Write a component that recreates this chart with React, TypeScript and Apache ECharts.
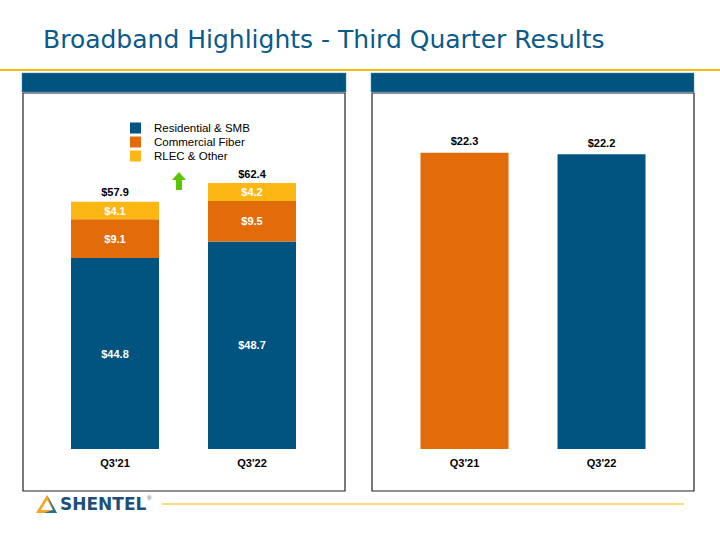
import React, { useEffect, useRef } from "react";
import * as echarts from "echarts";

const categories = ["Q3'21", "Q3'22"];
const residentialSMB = [44.8, 48.7];
const commercialFiber = [9.1, 9.5];
const rlecOther = [4.1, 4.2];
const totals = [57.9, 62.4];
const rightValues = [22.3, 22.2];
const seriesNames = ["Residential & SMB", "Commercial Fiber", "RLEC & Other"];

const BLUE = "#00547F";
const ORANGE = "#E36C0A";
const YELLOW = "#FDB714";
const FONT = "Liberation Sans, Arial, sans-serif";

const money = (v: number) => "$" + v.toFixed(1);

export default function App() {
  const ref = useRef<HTMLDivElement>(null);
  useEffect(() => {
    if (!ref.current) return;
    const chart = echarts.init(ref.current, null, { renderer: "svg" });
    const segLabel = {
      show: true,
      position: "inside",
      color: "#fff",
      fontWeight: "bold",
      fontSize: 11,
      fontFamily: FONT,
      formatter: (p: any) => money(p.value),
    };
    const axisLabel = {
      color: "#000",
      fontWeight: "bold",
      fontSize: 11,
      fontFamily: FONT,
      margin: 8,
    };
    chart.setOption({
      animation: false,
      textStyle: { fontFamily: FONT },
      grid: [
        { left: 46.5, width: 274, top: 108, bottom: 91, containLabel: false },
        { left: 396, width: 274, top: 117, bottom: 91, containLabel: false },
      ],
      legend: {
        data: seriesNames,
        orient: "vertical",
        left: 125,
        top: 117,
        itemWidth: 11,
        itemHeight: 11,
        itemGap: 2,
        icon: "rect",
        textStyle: { fontSize: 11.5, color: "#000", fontFamily: FONT, padding: [0, 0, 0, 8] },
        selectedMode: false,
      },
      xAxis: [
        {
          type: "category",
          data: categories,
          gridIndex: 0,
          axisLine: { show: false },
          axisTick: { show: false },
          axisLabel,
        },
        {
          type: "category",
          data: categories,
          gridIndex: 1,
          axisLine: { show: false },
          axisTick: { show: false },
          axisLabel,
        },
      ],
      yAxis: [
        { type: "value", gridIndex: 0, min: 0, max: 80, show: false },
        { type: "value", gridIndex: 1, min: 0, max: 25, show: false },
      ],
      series: [
        {
          name: seriesNames[0],
          type: "bar",
          stack: "a",
          xAxisIndex: 0,
          yAxisIndex: 0,
          barWidth: 88,
          data: residentialSMB,
          itemStyle: { color: BLUE },
          label: segLabel,
        },
        {
          name: seriesNames[1],
          type: "bar",
          stack: "a",
          xAxisIndex: 0,
          yAxisIndex: 0,
          barWidth: 88,
          data: commercialFiber,
          itemStyle: { color: ORANGE },
          label: segLabel,
        },
        {
          name: seriesNames[2],
          type: "bar",
          stack: "a",
          xAxisIndex: 0,
          yAxisIndex: 0,
          barWidth: 88,
          data: rlecOther,
          itemStyle: { color: YELLOW },
          label: segLabel,
        },
        {
          name: "Total",
          type: "bar",
          stack: "a",
          xAxisIndex: 0,
          yAxisIndex: 0,
          barWidth: 88,
          data: totals.map(() => 0),
          itemStyle: { color: "transparent" },
          label: {
            show: true,
            position: "top",
            distance: 4,
            color: "#000",
            fontWeight: "bold",
            fontSize: 11,
            fontFamily: FONT,
            formatter: (p: any) => money(totals[p.dataIndex]),
          },
        },
        {
          name: "Right",
          type: "bar",
          xAxisIndex: 1,
          yAxisIndex: 1,
          barWidth: 88,
          data: rightValues.map((v, i) => ({ value: v, itemStyle: { color: i === 0 ? ORANGE : BLUE } })),
          label: {
            show: true,
            position: "top",
            distance: 6,
            color: "#000",
            fontWeight: "bold",
            fontSize: 11,
            fontFamily: FONT,
            formatter: (p: any) => money(p.value),
          },
        },
      ],
      graphic: [
        {
          type: "text",
          left: 43,
          top: 27,
          style: {
            text: "Broadband Highlights - Third Quarter Results",
            fill: "#0B5A8A",
            fontSize: 25,
            fontFamily: "DejaVu Sans, Verdana, sans-serif",
          },
        },
        { type: "rect", shape: { x: 0, y: 69, width: 720, height: 2 }, style: { fill: "#FDB913" } },
        { type: "rect", shape: { x: 22, y: 73, width: 324, height: 19 }, style: { fill: BLUE, stroke: "#3A8CC0", lineWidth: 0.5 } },
        { type: "rect", shape: { x: 371, y: 73, width: 323, height: 19 }, style: { fill: BLUE, stroke: "#3A8CC0", lineWidth: 0.5 } },
        { type: "rect", z: -1, shape: { x: 23, y: 93, width: 322, height: 398 }, style: { fill: "none", stroke: "#222", lineWidth: 1.2 } },
        { type: "rect", z: -1, shape: { x: 372, y: 93, width: 322, height: 398 }, style: { fill: "none", stroke: "#222", lineWidth: 1.2 } },
        {
          type: "polygon",
          shape: { points: [[179, 172], [186, 180], [182, 180], [182, 190], [176, 190], [176, 180], [172, 180]] },
          style: { fill: "#5CC700" },
        },
        { type: "rect", shape: { x: 162, y: 503, width: 522, height: 2 }, style: { fill: "#FFD97A" } },
        {
          type: "polygon",
          shape: { points: [[47, 495], [57, 513], [36, 513]] },
          style: { fill: "#F5A623" },
        },
        {
          type: "polygon",
          shape: { points: [[47, 500], [53, 510], [41, 510]] },
          style: { fill: "#fff" },
        },
        {
          type: "polygon",
          shape: { points: [[47, 495], [57, 513], [44, 513], [53, 510]] },
          style: { fill: "#1F6FA8" },
        },
        {
          type: "text",
          left: 60,
          top: 495,
          style: {
            text: "SHENTEL",
            fill: "#1D4F7A",
            fontSize: 17,
            fontWeight: "bold",
            fontFamily: "DejaVu Sans, Verdana, sans-serif",
          },
        },
        {
          type: "text",
          left: 147,
          top: 495,
          style: { text: "®", fill: "#1D4F7A", fontSize: 6, fontFamily: FONT },
        },
      ],
    });
    return () => chart.dispose();
  }, []);
  return (
    <div
      ref={ref}
      style={{ position: "fixed", left: 0, top: 0, width: 720, height: 540, background: "#fff" }}
    />
  );
}
